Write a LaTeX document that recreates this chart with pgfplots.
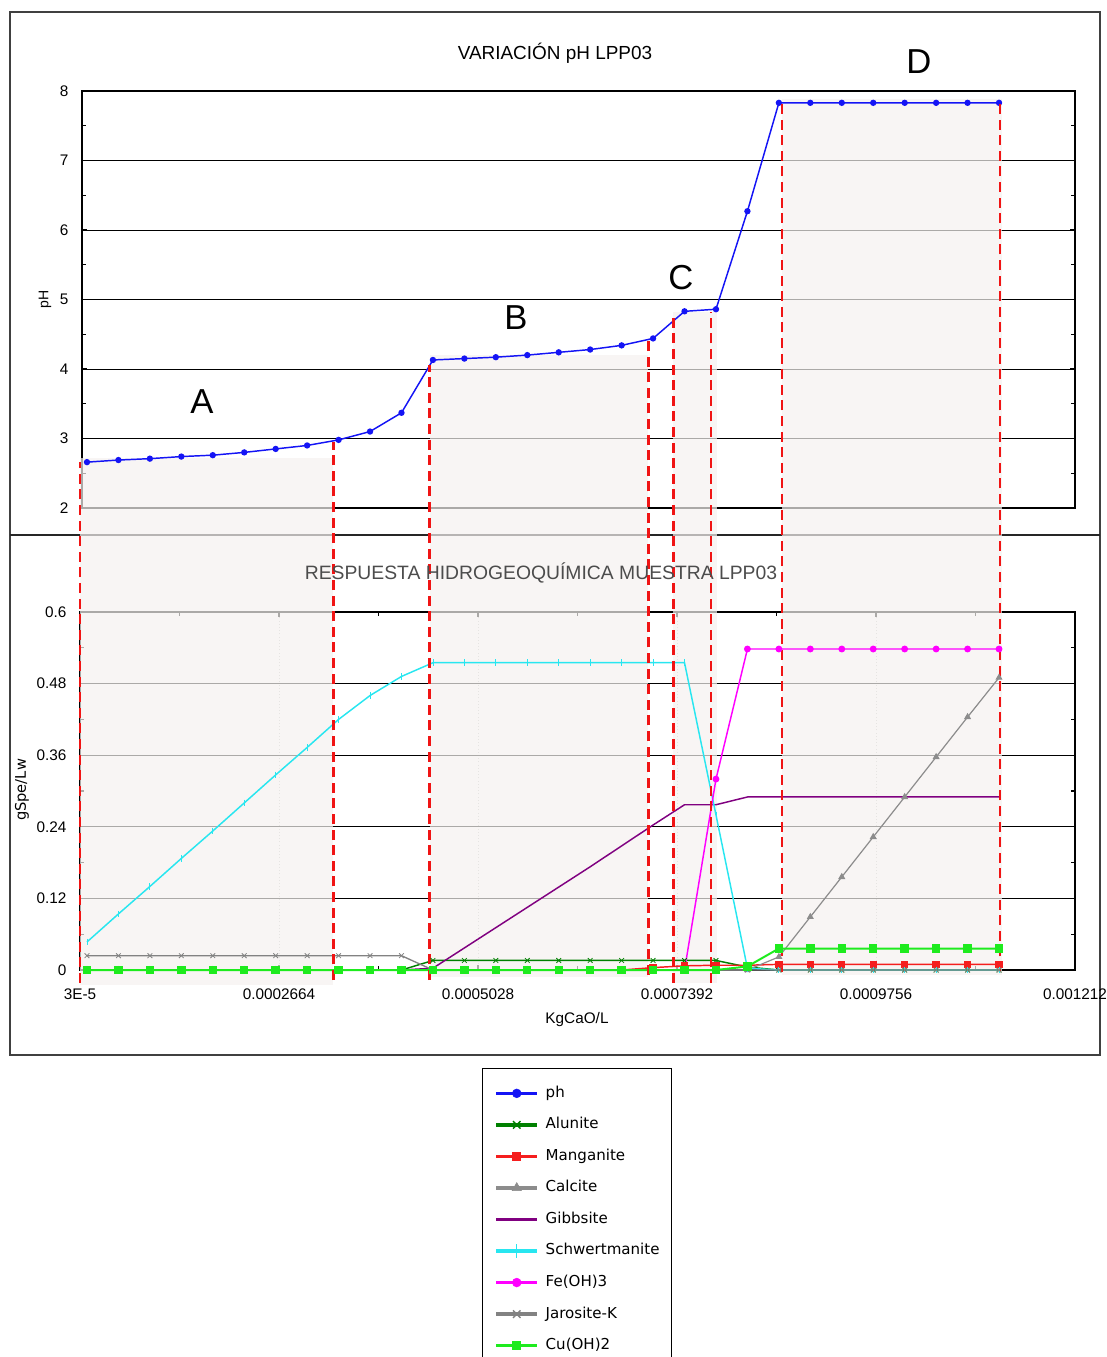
\documentclass[border=0pt]{standalone}
\usepackage{fontspec}
\setmainfont{Liberation Sans}
\newfontfamily\dejavu{DejaVu Sans}
\usepackage{pgfplots}
\usepackage{pgfplotstable}
\pgfplotsset{compat=1.18}
\definecolor{regc}{RGB}{245,241,239}
\definecolor{phblue}{RGB}{20,20,245}
\definecolor{alugreen}{RGB}{0,128,0}
\definecolor{manred}{RGB}{245,30,30}
\definecolor{calgray}{RGB}{140,140,140}
\definecolor{gibpurple}{RGB}{128,0,128}
\definecolor{schcyan}{RGB}{40,230,240}
\definecolor{femag}{RGB}{255,0,255}
\definecolor{jargray}{RGB}{130,130,130}
\definecolor{cugreen}{RGB}{30,235,30}
\definecolor{dashred}{RGB}{240,20,20}
\tikzset{regfill/.style={fill=regc, fill opacity=0.7},
 rdash/.style={draw=dashred, line width=1.8pt, dash pattern=on 7.5pt off 4.2pt}}

\pgfplotstableread{
x ph
3.830e-5 2.66
7.566e-5 2.69
1.1302e-4 2.71
1.5038e-4 2.74
1.8774e-4 2.76
2.2510e-4 2.80
2.6246e-4 2.85
2.9982e-4 2.90
3.3718e-4 2.98
3.7454e-4 3.10
4.1190e-4 3.37
4.4926e-4 4.13
4.8662e-4 4.15
5.2398e-4 4.17
5.6134e-4 4.20
5.9870e-4 4.24
6.3606e-4 4.28
6.7342e-4 4.34
7.1078e-4 4.44
7.4814e-4 4.83
7.8550e-4 4.86
8.2286e-4 6.27
8.6022e-4 7.83
8.9758e-4 7.83
9.3494e-4 7.83
9.7230e-4 7.83
1.00966e-3 7.83
1.04702e-3 7.83
1.08438e-3 7.83
1.12174e-3 7.83
}\phdata

\pgfplotstableread{
x alun mang calc gibb schw feoh jaro cuoh
3.830e-5 0 0 0 0 0.047 0 0.024 0
7.566e-5 0 0 0 0 0.094 0 0.024 0
1.1302e-4 0 0 0 0 0.140 0 0.024 0
1.5038e-4 0 0 0 0 0.187 0 0.024 0
1.8774e-4 0 0 0 0 0.233 0 0.024 0
2.2510e-4 0 0 0 0 0.280 0 0.024 0
2.6246e-4 0 0 0 0 0.327 0 0.024 0
2.9982e-4 0 0 0 0 0.373 0 0.024 0
3.3718e-4 0 0 0 0 0.420 0 0.024 0
3.7454e-4 0 0 0 0 0.460 0 0.024 0
4.1190e-4 0 0 0 0 0.492 0 0.024 0
4.4926e-4 0.016 0 0 0.003 0.515 0 0 0
4.8662e-4 0.016 0 0 0.037 0.515 0 0 0
5.2398e-4 0.016 0 0 0.071 0.515 0 0 0
5.6134e-4 0.016 0 0 0.105 0.515 0 0 0
5.9870e-4 0.016 0 0 0.139 0.515 0 0 0
6.3606e-4 0.016 0 0 0.173 0.515 0 0 0
6.7342e-4 0.016 0 0 0.208 0.515 0 0 0
7.1078e-4 0.016 0.004 0 0.243 0.515 0 0 0
7.4814e-4 0.016 0.007 0 0.277 0.515 0 0 0
7.8550e-4 0.016 0.008 0 0.277 0.260 0.320 0 0
8.2286e-4 0.005 0.008 0 0.290 0.003 0.538 0 0.006
8.6022e-4 0 0.0095 0.022 0.290 0 0.538 0 0.036
8.9758e-4 0 0.0095 0.089 0.290 0 0.538 0 0.036
9.3494e-4 0 0.0095 0.156 0.290 0 0.538 0 0.036
9.7230e-4 0 0.0095 0.223 0.290 0 0.538 0 0.036
1.00966e-3 0 0.0095 0.290 0.290 0 0.538 0 0.036
1.04702e-3 0 0.0095 0.357 0.290 0 0.538 0 0.036
1.08438e-3 0 0.0095 0.424 0.290 0 0.538 0 0.036
1.12174e-3 0 0.0095 0.490 0.290 0 0.538 0 0.036
}\spdata

\begin{document}
\begin{tikzpicture}
\useasboundingbox (0,0) rectangle (830.25pt,-1017.75pt);
\draw[black!75, line width=0.8pt] (7.5pt,-9pt) rectangle (825pt,-791.25pt);
\draw[black!85, line width=0.8pt] (7.5pt,-401.25pt) -- (825pt,-401.25pt);

% ---------------- top panel ----------------
\begin{axis}[
 at={(61.5pt,-68.25pt)}, anchor=north west,
 scale only axis, width=744.75pt, height=312.75pt,
 xmin=3.2376e-5, xmax=0.001212, ymin=2, ymax=8,
 xtick=\empty, scaled x ticks=false,
 ytick={2,3,4,5,6,7,8}, yticklabels={2,3,4,5,6,7,8},
 minor y tick num=1,
 ymajorgrids, y grid style={black, line width=0.7pt},
 axis line style={black, line width=1.1pt},
 major tick length=4pt, minor tick length=3pt,
 tick style={black, line width=0.8pt},
 tick label style={font=\fontsize{11.5}{13}\selectfont},
 yticklabel style={inner sep=0pt, xshift=-10pt},
 ylabel={pH},
 ylabel style={at={(axis description cs:-0.0373,0.501)}, anchor=center, font=\fontsize{10.5}{12}\selectfont},
 title={VARIACIÓN pH LPP03},
 title style={at={(axis description cs:0.4763,1.0719)}, anchor=center, font=\fontsize{14.2}{16}\selectfont},
 clip=false,
]
\fill[regfill] (axis cs:3e-5,1.97) rectangle (axis cs:3.3091e-4,2.72);
\fill[regfill] (axis cs:4.4578e-4,1.97) rectangle (axis cs:7.0511e-4,4.20);
\fill[regfill] (axis cs:7.3480e-4,1.97) rectangle (axis cs:7.8636e-4,4.82);
\fill[regfill] (axis cs:8.6358e-4,1.97) rectangle (axis cs:1.12528e-3,7.885);
\addplot[phblue, line width=1.1pt, mark=*, mark size=1.8pt] table[x=x,y=ph]{\phdata};
\node[font=\fontsize{26}{28}\selectfont] at (axis cs:1.7493e-4,3.525) {A};
\node[font=\fontsize{26}{28}\selectfont] at (axis cs:5.4794e-4,4.734) {B};
\node[font=\fontsize{26}{28}\selectfont] at (axis cs:7.4395e-4,5.309) {C};
\node[font=\fontsize{26}{28}\selectfont] at (axis cs:1.02668e-3,8.417) {D};
\end{axis}

% ---------------- bottom panel ----------------
\begin{axis}[
 at={(60pt,-459pt)}, anchor=north west,
 scale only axis, width=746.25pt, height=268.5pt,
 xmin=3e-5, xmax=0.001212, ymin=0, ymax=0.6,
 scaled x ticks=false, scaled y ticks=false,
 xtick={3e-5,0.0002664,0.0005028,0.0007392,0.0009756,0.001212},
 xticklabels={3E-5,0.0002664,0.0005028,0.0007392,0.0009756,0.001212},
 ytick={0,0.12,0.24,0.36,0.48,0.6}, yticklabels={0,0.12,0.24,0.36,0.48,0.6},
 minor x tick num=1, minor y tick num=1,
 xmajorgrids, ymajorgrids,
 x grid style={gray!45, dotted, line width=0.6pt},
 y grid style={black, line width=0.7pt},
 axis line style={black, line width=1.1pt},
 major tick length=4pt, minor tick length=3pt,
 tick style={black, line width=0.8pt},
 tick label style={font=\fontsize{11.5}{13}\selectfont},
 yticklabel style={inner sep=0pt, xshift=-10pt},
 xticklabel style={inner sep=0pt, yshift=-13.8pt},
 xlabel={KgCaO/L},
 xlabel style={at={(axis description cs:0.4995,-0.1397)}, anchor=center, font=\fontsize{11.5}{13}\selectfont},
 ylabel={gSpe/Lw},
 ylabel style={at={(axis description cs:-0.0583,0.503)}, anchor=center, font=\dejavu\fontsize{11}{13}\selectfont},
 title={RESPUESTA HIDROGEOQUÍMICA MUESTRA LPP03},
 title style={at={(axis description cs:0.4633,1.0866)}, anchor=center, font=\fontsize{14.5}{16}\selectfont, text=black!70},
 clip=false,
 legend style={at={(axis description cs:0.404,-0.2737)}, anchor=north west,
   draw=black, line width=0.75pt, fill=white,
   font=\dejavu\fontsize{11.3}{13}\selectfont,
   inner xsep=9pt, inner ysep=13pt, row sep=12.35pt,
   nodes={inner sep=0pt, text height=8.6pt, text depth=2.7pt},
   /tikz/every odd column/.append style={column sep=5pt}},
 legend cell align=left,
 legend image code/.code={\draw[mark repeat=2,mark phase=2] plot coordinates {(0pt,0pt) (15.5pt,0pt) (31pt,0pt)};},
]
\fill[regfill] (axis cs:3e-5,-0.025) rectangle (axis cs:3.3091e-4,0.771);
\fill[regfill] (axis cs:4.4578e-4,-0.012) rectangle (axis cs:7.0511e-4,0.771);
\fill[regfill] (axis cs:7.3480e-4,-0.022) rectangle (axis cs:7.8636e-4,0.771);
\fill[regfill] (axis cs:8.6358e-4,-0.008) rectangle (axis cs:1.12528e-3,0.771);

\addlegendimage{phblue, line width=2.4pt, mark=*, mark size=3.3pt, mark options={solid, line width=0.4pt}}
\addlegendentry{ph}
\addlegendimage{alugreen, line width=2.4pt, mark=x, mark size=4pt, mark options={line width=1pt}}
\addlegendentry{Alunite}
\addlegendimage{manred, line width=2.4pt, mark=square*, mark size=3pt, mark options={line width=0.4pt}}
\addlegendentry{Manganite}
\addlegendimage{calgray, line width=2.4pt, mark=triangle*, mark size=4pt, mark options={line width=0.4pt}}
\addlegendentry{Calcite}
\addlegendimage{gibpurple, line width=2.4pt}
\addlegendentry{Gibbsite}
\addlegendimage{schcyan, line width=2.4pt, mark=|, mark size=5pt, mark options={line width=1pt}}
\addlegendentry{Schwertmanite}
\addlegendimage{femag, line width=2.4pt, mark=*, mark size=3.3pt, mark options={line width=0.4pt}}
\addlegendentry{Fe(OH)3}
\addlegendimage{jargray, line width=2.4pt, mark=x, mark size=4pt, mark options={line width=1pt}}
\addlegendentry{Jarosite-K}
\addlegendimage{cugreen, line width=2.4pt, mark=square*, mark size=3pt, mark options={line width=0.4pt}}
\addlegendentry{Cu(OH)2}

\addplot[forget plot, alugreen, line width=1.1pt, mark=x, mark size=2.5pt, mark options={line width=0.6pt}] table[x=x,y=alun]{\spdata};
\addplot[forget plot, manred, line width=1.1pt, mark=square*, mark size=2.2pt] table[x=x,y=mang]{\spdata};
\addplot[forget plot, calgray, line width=0.9pt, mark=triangle*, mark size=2.2pt] table[x=x,y=calc]{\spdata};
\addplot[forget plot, gibpurple, line width=1.1pt] table[x=x,y=gibb]{\spdata};
\addplot[forget plot, schcyan, line width=1.1pt, mark=|, mark size=2.5pt, mark options={line width=0.6pt}] table[x=x,y=schw]{\spdata};
\addplot[forget plot, femag, line width=1.1pt, mark=*, mark size=2pt] table[x=x,y=feoh]{\spdata};
\addplot[forget plot, jargray, line width=1pt, mark=x, mark size=2.5pt, mark options={line width=0.6pt}] table[x=x,y=jaro]{\spdata};
\addplot[forget plot, cugreen, line width=1.5pt, mark=square*, mark size=2.4pt] table[x=x,y=cuoh]{\spdata};

\draw[rdash] (axis cs:3e-5,-0.0218) -- (axis cs:3e-5,0.8514);
\draw[rdash] (axis cs:3.3091e-4,-0.0168) -- (axis cs:3.3091e-4,0.8849);
\draw[rdash] (axis cs:4.4495e-4,-0.0168) -- (axis cs:4.4495e-4,1.0140);
\draw[rdash] (axis cs:7.0511e-4,-0.0084) -- (axis cs:7.0511e-4,1.0559);
\draw[rdash] (axis cs:7.3480e-4,-0.0218) -- (axis cs:7.3480e-4,1.0927);
\draw[rdash] (axis cs:7.7923e-4,-0.0218) -- (axis cs:7.7923e-4,1.1028);
\draw[rdash] (axis cs:8.6358e-4,-0.0034) -- (axis cs:8.6358e-4,1.4547);
\draw[rdash] (axis cs:1.12290e-3,-0.0034) -- (axis cs:1.12290e-3,1.4547);
\end{axis}
\end{tikzpicture}
\end{document}
